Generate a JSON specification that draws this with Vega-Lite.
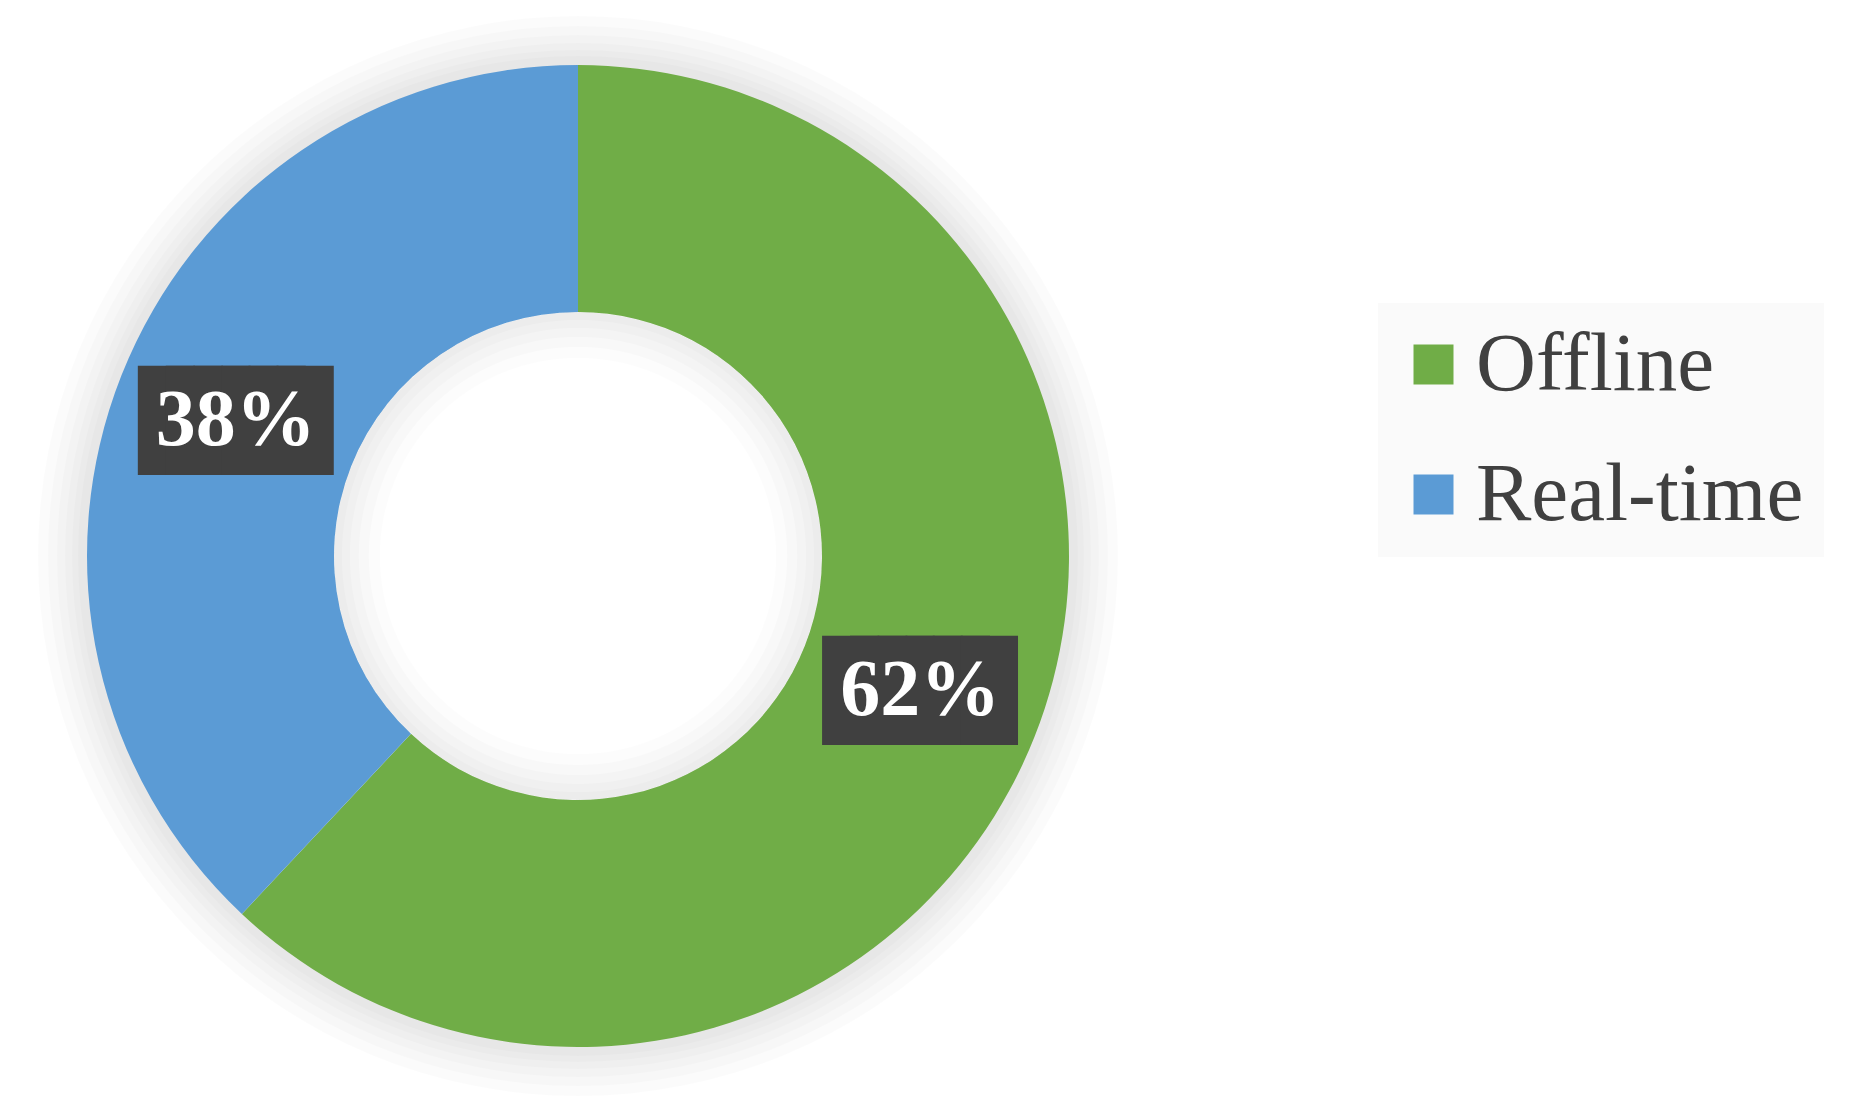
{
  "$schema": "https://vega.github.io/schema/vega-lite/v6.json",
  "width": 1156,
  "height": 1112,
  "autosize": {"type": "none"},
  "padding": {"left": 0, "top": 0, "right": 693, "bottom": 0},
  "background": "white",
  "config": {"view": {"stroke": null}},
  "data": {"values": [
    {"type": "Offline", "share": 0.62},
    {"type": "Real-time", "share": 0.38}
  ]},
  "layer": [
    {"data": {"values": [{"k": 1}]}, "mark": {"type": "arc", "theta": 0, "theta2": 6.2832, "innerRadius": 490, "outerRadius": 540, "color": "#000", "opacity": 0.015}, "encoding": {}},
    {"data": {"values": [{"k": 1}]}, "mark": {"type": "arc", "theta": 0, "theta2": 6.2832, "innerRadius": 490, "outerRadius": 530, "color": "#000", "opacity": 0.015}, "encoding": {}},
    {"data": {"values": [{"k": 1}]}, "mark": {"type": "arc", "theta": 0, "theta2": 6.2832, "innerRadius": 490, "outerRadius": 521, "color": "#000", "opacity": 0.015}, "encoding": {}},
    {"data": {"values": [{"k": 1}]}, "mark": {"type": "arc", "theta": 0, "theta2": 6.2832, "innerRadius": 490, "outerRadius": 513, "color": "#000", "opacity": 0.015}, "encoding": {}},
    {"data": {"values": [{"k": 1}]}, "mark": {"type": "arc", "theta": 0, "theta2": 6.2832, "innerRadius": 490, "outerRadius": 506, "color": "#000", "opacity": 0.015}, "encoding": {}},
    {"data": {"values": [{"k": 1}]}, "mark": {"type": "arc", "theta": 0, "theta2": 6.2832, "innerRadius": 490, "outerRadius": 500, "color": "#000", "opacity": 0.015}, "encoding": {}},
    {
      "mark": {"type": "arc", "innerRadius": 244, "outerRadius": 491},
      "encoding": {
        "theta": {"field": "share", "type": "quantitative", "stack": true},
        "order": {"field": "type", "type": "ordinal", "sort": "ascending"},
        "color": {
          "field": "type", "type": "nominal",
          "scale": {"domain": ["Offline", "Real-time"], "range": ["#70AD47", "#5B9BD5"]},
          "legend": {
            "title": null, "orient": "none", "legendX": 1378, "legendY": 303,
            "fillColor": "#FAFAFA", "padding": 20, "symbolOffset": -6,
            "symbolType": "square", "symbolSize": 1600, "symbolStrokeWidth": 0,
            "labelFont": "Liberation Serif", "labelFontSize": 83, "labelColor": "#404040",
            "labelOffset": 1, "rowPadding": 46, "labelLimit": 0
          }
        }
      }
    },
    {"data": {"values": [{"k": 1}]}, "mark": {"type": "arc", "theta": 0, "theta2": 6.2832, "innerRadius": 236, "outerRadius": 244, "color": "#000", "opacity": 0.014}, "encoding": {}},
    {"data": {"values": [{"k": 1}]}, "mark": {"type": "arc", "theta": 0, "theta2": 6.2832, "innerRadius": 228, "outerRadius": 244, "color": "#000", "opacity": 0.014}, "encoding": {}},
    {"data": {"values": [{"k": 1}]}, "mark": {"type": "arc", "theta": 0, "theta2": 6.2832, "innerRadius": 219, "outerRadius": 244, "color": "#000", "opacity": 0.014}, "encoding": {}},
    {"data": {"values": [{"k": 1}]}, "mark": {"type": "arc", "theta": 0, "theta2": 6.2832, "innerRadius": 209, "outerRadius": 244, "color": "#000", "opacity": 0.014}, "encoding": {}},
    {"data": {"values": [{"k": 1}]}, "mark": {"type": "arc", "theta": 0, "theta2": 6.2832, "innerRadius": 198, "outerRadius": 244, "color": "#000", "opacity": 0.012}, "encoding": {}},
    {
      "mark": {"type": "text", "radius": 368, "font": "DejaVu Sans Mono", "fontSize": 92, "color": "#404040", "baseline": "middle", "align": "center", "text": "███", "dx": -14, "dy": 3},
      "encoding": {
        "theta": {"field": "share", "type": "quantitative", "stack": true},
        "order": {"field": "type", "type": "ordinal", "sort": "ascending"},
        "detail": {"field": "type", "type": "nominal"}
      }
    },
    {
      "mark": {"type": "text", "radius": 368, "font": "DejaVu Sans Mono", "fontSize": 92, "color": "#404040", "baseline": "middle", "align": "center", "text": "███", "dx": 14, "dy": 3},
      "encoding": {
        "theta": {"field": "share", "type": "quantitative", "stack": true},
        "order": {"field": "type", "type": "ordinal", "sort": "ascending"},
        "detail": {"field": "type", "type": "nominal"}
      }
    },
    {
      "mark": {"type": "text", "radius": 368, "font": "Liberation Serif", "fontWeight": "bold", "fontSize": 80, "color": "white", "baseline": "middle", "align": "center"},
      "encoding": {
        "theta": {"field": "share", "type": "quantitative", "stack": true},
        "order": {"field": "type", "type": "ordinal", "sort": "ascending"},
        "detail": {"field": "type", "type": "nominal"},
        "text": {"field": "share", "type": "quantitative", "format": ".0%"}
      }
    }
  ]
}
